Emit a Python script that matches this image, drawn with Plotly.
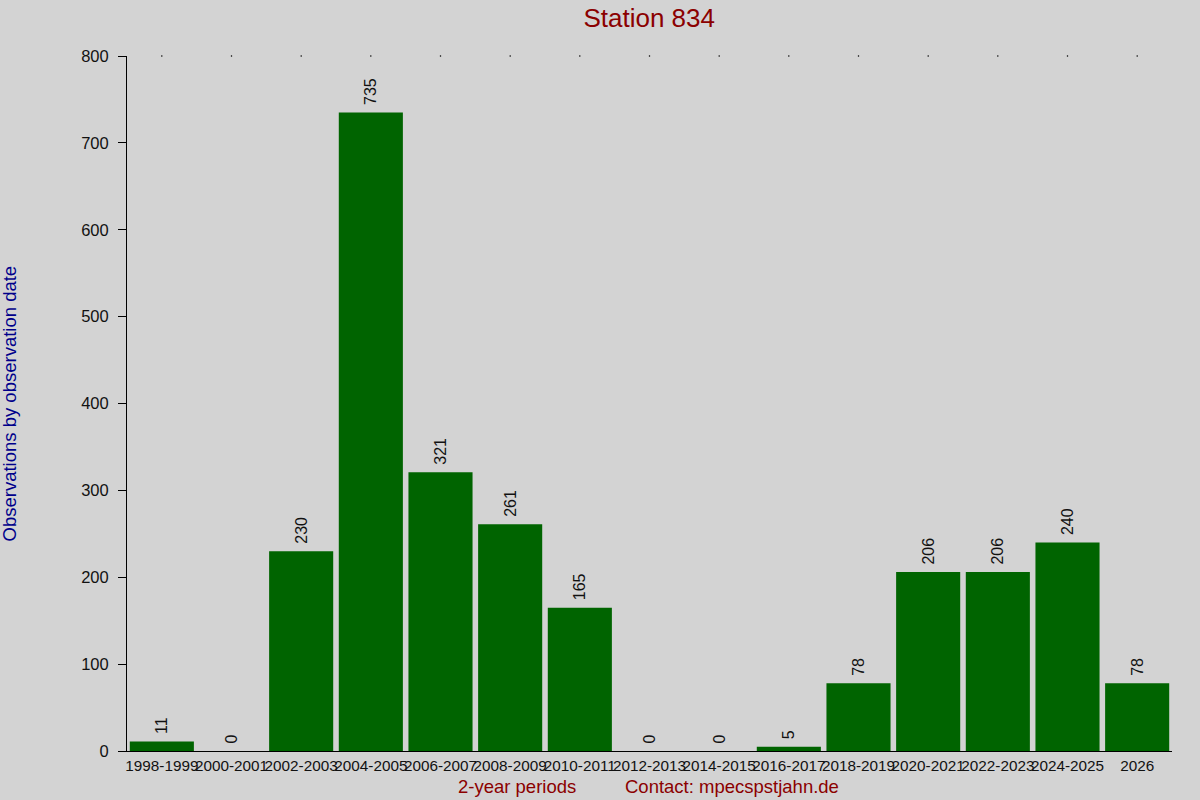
import plotly.graph_objects as go

periods = ['1998-1999', '2000-2001', '2002-2003', '2004-2005', '2006-2007',
           '2008-2009', '2010-2011', '2012-2013', '2014-2015', '2016-2017',
           '2018-2019', '2020-2021', '2022-2023', '2024-2025', '2026']
observations = [11, 0, 230, 735, 321, 261, 165, 0, 0, 5, 78, 206, 206, 240, 78]
y_ticks = [0, 100, 200, 300, 400, 500, 600, 700, 800]

font = 'Liberation Sans, Arial, sans-serif'

fig = go.Figure()

# leading space lifts the rotated label a little off the bar top
fig.add_trace(go.Bar(x=periods, y=observations,
                     marker=dict(color='#006400', line=dict(width=0)),
                     text=[' ' + str(v) for v in observations],
                     textposition='outside', textangle=-90,
                     textfont=dict(family=font, size=16, color='#111111'),
                     cliponaxis=False, hoverinfo='x+y'))

# little dots along the top edge of the plot
fig.add_trace(go.Scatter(x=periods, y=[y_ticks[-1]] * len(periods),
                         mode='markers', marker=dict(color='black', size=1.5),
                         cliponaxis=False, hoverinfo='skip'))

fig.update_layout(
    width=1200, height=800,
    paper_bgcolor='#d3d3d3', plot_bgcolor='#d3d3d3',
    margin=dict(l=127, r=28, t=56, b=49, autoexpand=False),
    showlegend=False, bargap=0.08,
    font=dict(family=font, size=16, color='#111111'),
    title=dict(text='Station 834', x=0.541, xanchor='center', y=0.978, yanchor='middle',
               font=dict(family=font, size=26, color='#8b0000')),
)

fig.update_xaxes(range=[-0.5, len(periods) - 0.5], showline=True, linecolor='black',
                 linewidth=1, ticks='', showgrid=False, zeroline=False, tickangle=0,
                 automargin=False, tickfont=dict(size=15.3, color='#111111'),
                 ticklabelstandoff=1)
fig.update_yaxes(range=[0, 800], tickvals=y_ticks, showline=True, linecolor='black',
                 linewidth=1, ticks='outside', ticklen=8, tickcolor='black',
                 automargin=False, showgrid=False, zeroline=False,
                 ticklabelstandoff=6, tickfont=dict(size=16.5, color='#111111'))

fig.add_annotation(text='Observations by observation date', textangle=-90,
                   xref='paper', yref='paper', x=-0.112, y=0.5,
                   xanchor='center', yanchor='middle', showarrow=False,
                   font=dict(family=font, size=18.5, color='#00008b'))
fig.add_annotation(text='2-year periods', xref='paper', yref='paper',
                   x=0.373, y=-0.0504, xanchor='center', yanchor='middle', showarrow=False,
                   font=dict(family=font, size=18.5, color='#8b0000'))
fig.add_annotation(text='Contact: mpecspstjahn.de', xref='paper', yref='paper',
                   x=0.579, y=-0.0504, xanchor='center', yanchor='middle', showarrow=False,
                   font=dict(family=font, size=18.5, color='#8b0000'))

# drop the page margin so the 1200x800 figure fills the window
fig.write_html('out.html', config={'displayModeBar': False},
               post_script="document.body.style.margin='0';")
